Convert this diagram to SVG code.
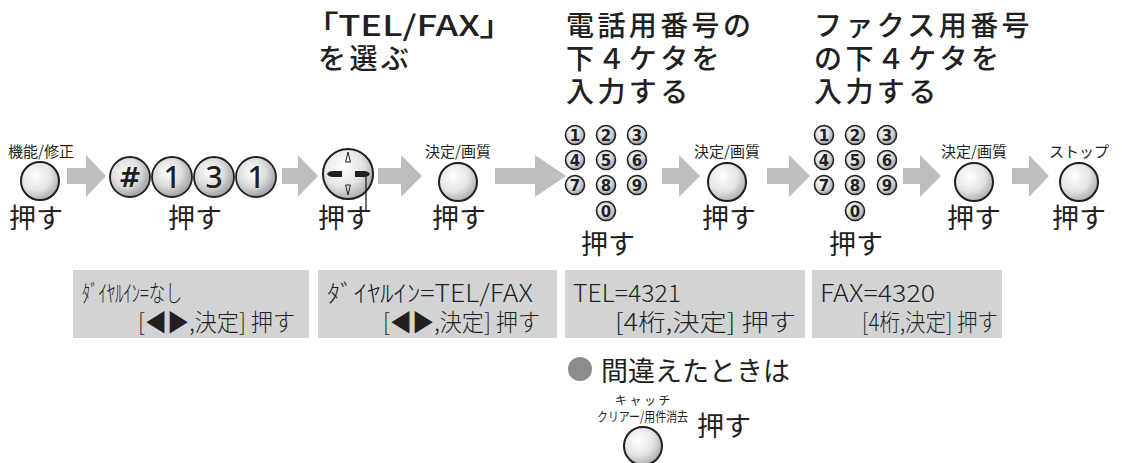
<svg xmlns="http://www.w3.org/2000/svg" width="1122" height="463" viewBox="0 0 1122 463">
<defs>
<radialGradient id="gBtn" cx="0.38" cy="0.35" r="0.72">
<stop offset="0" stop-color="#ffffff"/>
<stop offset="0.55" stop-color="#e4e5e6"/>
<stop offset="1" stop-color="#a3a5a8"/>
</radialGradient>
<radialGradient id="gKey" cx="0.4" cy="0.38" r="0.7">
<stop offset="0" stop-color="#ffffff"/>
<stop offset="0.5" stop-color="#dcdddf"/>
<stop offset="1" stop-color="#8f9194"/>
</radialGradient>
<style>
.t{font-family:"Noto Sans CJK JP","Noto Sans",sans-serif;fill:#231f20}
.h{font-size:28px;font-weight:500;letter-spacing:3.4px}
.push{font-size:27px;font-weight:400}
.lbl{font-size:15px;font-weight:400;text-anchor:middle}
.lcd{font-size:24px;font-weight:300}
.btn{fill:url(#gBtn);stroke:#231f20;stroke-width:2}
.key{fill:url(#gKey);stroke:#231f20;stroke-width:1.8}
.kp{fill:url(#gKey);stroke:#231f20;stroke-width:1.6}
.kd{font-family:"DejaVu Sans",sans-serif;font-weight:700;fill:#231f20;text-anchor:middle}
.kb{font-family:"Noto Sans","DejaVu Sans",sans-serif;font-weight:500;fill:#231f20;text-anchor:middle;font-size:30px}
.arr{fill:#bcbec0}
.box{fill:#d1d3d4}
</style>
</defs>
<rect width="1122" height="463" fill="#ffffff"/>

<g id="heading-telfax">
<text class="t h" x="320" y="36" textLength="178" lengthAdjust="spacingAndGlyphs" style="font-feature-settings:'palt';letter-spacing:0">「TEL/FAX」</text>
<text class="t h" x="318" y="69">を選ぶ</text>
</g>
<g id="heading-tel">
<text class="t h" x="566" y="36">電話用番号の</text>
<text class="t h" x="566" y="69">下４ケタを</text>
<text class="t h" x="566" y="102">入力する</text>
</g>
<g id="heading-fax">
<text class="t h" x="814" y="36">ファクス用番号</text>
<text class="t h" x="814" y="69">の下４ケタを</text>
<text class="t h" x="814" y="102">入力する</text>
</g>

<g id="connectors">
<path class="arr" d="M67,168 H86 V155 L106,176 L86,197 V184 H67 Z"/>
<path class="arr" d="M282,168 H298 V155 L318,176 L298,197 V184 H282 Z"/>
<path class="arr" d="M378,168 H401 V155 L422,176 L401,197 V184 H378 Z"/>
<path class="arr" d="M495,168 H535 V155 L566,176 L535,197 V184 H495 Z"/>
<path class="arr" d="M662,168 H679 V155 L700,176 L679,197 V184 H662 Z"/>
<path class="arr" d="M767,168 H789 V155 L810,176 L789,197 V184 H767 Z"/>
<path class="arr" d="M903,168 H920 V155 L941,176 L920,197 V184 H903 Z"/>
<path class="arr" d="M1012,168 H1029 V155 L1049,176 L1029,197 V184 H1012 Z"/>
</g>

<g id="btn-kinou">
<text class="t lbl" x="41" y="157">機能/修正</text>
<circle class="btn" cx="40" cy="181" r="19"/>
<text class="t push" x="9" y="228">押す</text>
</g>

<g id="keys-131">
<circle class="key" cx="130" cy="177" r="20"/>
<circle class="key" cx="172" cy="177" r="20"/>
<circle class="key" cx="214" cy="177" r="20"/>
<circle class="key" cx="256" cy="177" r="20"/>
<text class="kd" x="130" y="187" font-size="27">#</text>
<text class="kb" x="172" y="188">1</text>
<text class="kb" x="214" y="188">3</text>
<text class="kb" x="256" y="188">1</text>
<text class="t push" x="168" y="228">押す</text>
</g>

<g id="btn-nav">
<circle class="btn" cx="348" cy="174" r="25"/>
<path d="M348,152 L345.6,162 L350.4,162 Z" fill="none" stroke="#231f20" stroke-width="1"/>
<path d="M348,195 L345.6,185 L350.4,185 Z" fill="none" stroke="#231f20" stroke-width="1"/>
<path d="M327,174 Q328.5,171 333,171 H342 V177 H333 Q328.5,177 327,174 Z" fill="#231f20"/>
<path d="M370,174 Q368.5,171 364,171 H355 V177 H364 Q368.5,177 370,174 Z" fill="#231f20"/>
<path d="M366,176 V212" stroke="#231f20" stroke-width="1.3" fill="none"/>
<text class="t push" x="318" y="228">押す</text>
</g>

<g id="btn-kettei1">
<text class="t lbl" x="458" y="157">決定/画質</text>
<circle class="btn" cx="458" cy="182" r="19"/>
<text class="t push" x="432" y="228">押す</text>
</g>

<g id="keypad-tel">
<circle class="kp" cx="575" cy="135" r="9.5"/><circle class="kp" cx="606" cy="135" r="9.5"/><circle class="kp" cx="637" cy="135" r="9.5"/>
<circle class="kp" cx="575" cy="160" r="9.5"/><circle class="kp" cx="606" cy="160" r="9.5"/><circle class="kp" cx="637" cy="160" r="9.5"/>
<circle class="kp" cx="575" cy="185" r="9.5"/><circle class="kp" cx="606" cy="185" r="9.5"/><circle class="kp" cx="637" cy="185" r="9.5"/>
<circle class="kp" cx="606" cy="211" r="9.5"/>
<text class="kd" font-size="15" x="575" y="140.5">1</text><text class="kd" font-size="15" x="606" y="140.5">2</text><text class="kd" font-size="15" x="637" y="140.5">3</text>
<text class="kd" font-size="15" x="575" y="165.5">4</text><text class="kd" font-size="15" x="606" y="165.5">5</text><text class="kd" font-size="15" x="637" y="165.5">6</text>
<text class="kd" font-size="15" x="575" y="190.5">7</text><text class="kd" font-size="15" x="606" y="190.5">8</text><text class="kd" font-size="15" x="637" y="190.5">9</text>
<text class="kd" font-size="15" x="606" y="216.5">0</text>
<text class="t push" x="581" y="254">押す</text>
</g>

<g id="btn-kettei2">
<text class="t lbl" x="727" y="157">決定/画質</text>
<circle class="btn" cx="727" cy="182" r="19"/>
<text class="t push" x="702" y="228">押す</text>
</g>

<g id="keypad-fax">
<circle class="kp" cx="824" cy="135" r="9.5"/><circle class="kp" cx="855" cy="135" r="9.5"/><circle class="kp" cx="887" cy="135" r="9.5"/>
<circle class="kp" cx="824" cy="160" r="9.5"/><circle class="kp" cx="855" cy="160" r="9.5"/><circle class="kp" cx="887" cy="160" r="9.5"/>
<circle class="kp" cx="824" cy="185" r="9.5"/><circle class="kp" cx="855" cy="185" r="9.5"/><circle class="kp" cx="887" cy="185" r="9.5"/>
<circle class="kp" cx="855" cy="211" r="9.5"/>
<text class="kd" font-size="15" x="824" y="140.5">1</text><text class="kd" font-size="15" x="855" y="140.5">2</text><text class="kd" font-size="15" x="887" y="140.5">3</text>
<text class="kd" font-size="15" x="824" y="165.5">4</text><text class="kd" font-size="15" x="855" y="165.5">5</text><text class="kd" font-size="15" x="887" y="165.5">6</text>
<text class="kd" font-size="15" x="824" y="190.5">7</text><text class="kd" font-size="15" x="855" y="190.5">8</text><text class="kd" font-size="15" x="887" y="190.5">9</text>
<text class="kd" font-size="15" x="855" y="216.5">0</text>
<text class="t push" x="829" y="254">押す</text>
</g>

<g id="btn-kettei3">
<text class="t lbl" x="974" y="157">決定/画質</text>
<circle class="btn" cx="974" cy="182" r="19"/>
<text class="t push" x="947" y="228">押す</text>
</g>

<g id="btn-stop">
<text class="t lbl" x="1079" y="157">ストップ</text>
<circle class="btn" cx="1079" cy="182" r="19"/>
<text class="t push" x="1052" y="228">押す</text>
</g>

<g id="box1">
<rect class="box" x="73" y="270" width="236" height="68"/>
<text class="t lcd" x="82" y="302" textLength="100" lengthAdjust="spacingAndGlyphs">ﾀﾞｲﾔﾙｲﾝ=なし</text>
<text class="t lcd" x="138" y="331" textLength="157" lengthAdjust="spacingAndGlyphs">[◀▶,決定] 押す</text>
</g>
<g id="box2">
<rect class="box" x="318" y="270" width="239" height="68"/>
<text class="t lcd" x="327" y="302" textLength="206" lengthAdjust="spacingAndGlyphs">ﾀﾞｲﾔﾙｲﾝ=TEL/FAX</text>
<text class="t lcd" x="383" y="331" textLength="157" lengthAdjust="spacingAndGlyphs">[◀▶,決定] 押す</text>
</g>
<g id="box3">
<rect class="box" x="565" y="270" width="240" height="68"/>
<text class="t lcd" x="573" y="302" textLength="108" lengthAdjust="spacingAndGlyphs">TEL=4321</text>
<text class="t lcd" x="615" y="331" textLength="181" lengthAdjust="spacingAndGlyphs">[4桁,決定] 押す</text>
</g>
<g id="box4">
<rect class="box" x="812" y="270" width="190" height="68"/>
<text class="t lcd" x="820" y="302" textLength="115" lengthAdjust="spacingAndGlyphs">FAX=4320</text>
<text class="t lcd" x="862" y="331" textLength="136" lengthAdjust="spacingAndGlyphs">[4桁,決定] 押す</text>
</g>

<g id="note">
<circle cx="580" cy="369" r="12" fill="#8a8c8e"/>
<text class="t" x="601" y="381" font-size="27">間違えたときは</text>
</g>

<g id="btn-clear">
<text class="t" x="615" y="405" font-size="12" letter-spacing="2.5">キャッチ</text>
<text class="t" x="597" y="421" font-size="13" textLength="91" lengthAdjust="spacingAndGlyphs">クリアー/用件消去</text>
<circle class="btn" cx="643" cy="446" r="19"/>
<text class="t push" x="697" y="436">押す</text>
</g>
</svg>
